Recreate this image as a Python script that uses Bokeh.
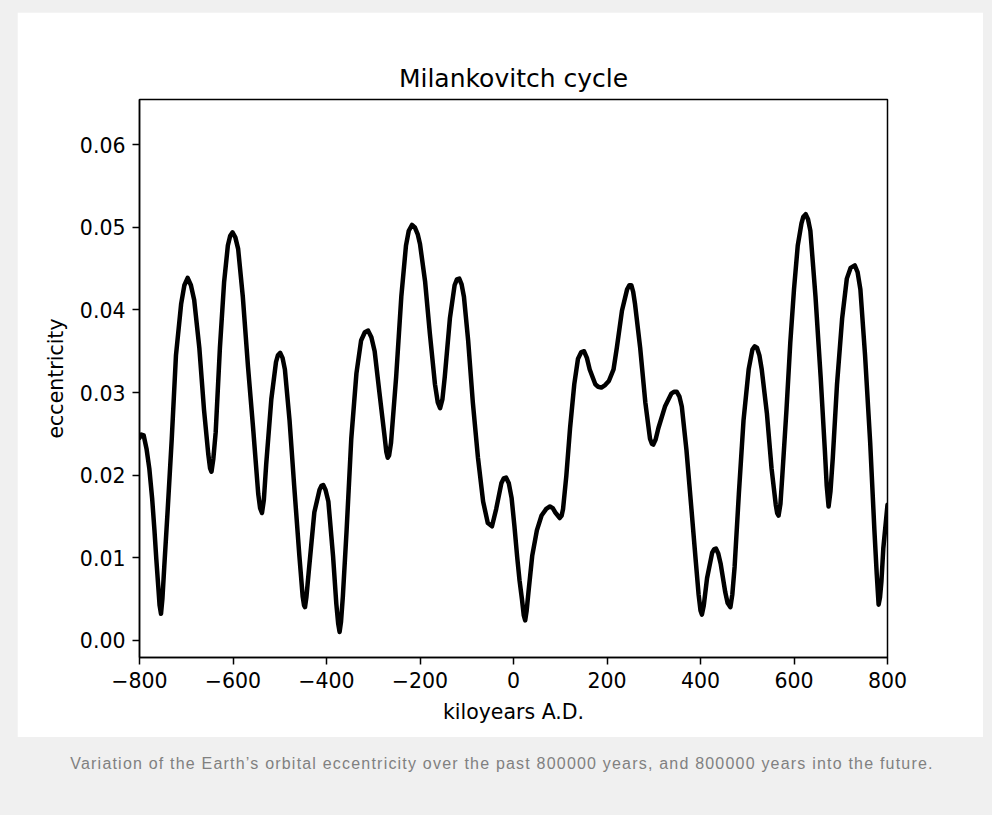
from bokeh.plotting import figure
from bokeh.models import FixedTicker, Div, Range1d, PrintfTickFormatter
from bokeh.layouts import column
from bokeh.embed import file_html
from bokeh.resources import INLINE

# kiloyears A.D.
kyr = [-800, -796, -791, -785, -779, -773, -768, -764, -760, -757, -754, -751, -747, -740,
       -731, -722, -711, -704, -697, -690, -683, -672, -662, -653, -649, -646, -642, -637,
       -628, -619, -611, -606, -601, -595, -589, -579, -568, -557, -546, -542, -538, -534,
       -529, -518, -508, -504, -499, -494, -489, -479, -469, -458, -451, -448, -446, -443,
       -437, -426, -415, -411, -407, -402, -396, -386, -379, -375, -372, -369, -365, -357,
       -347, -336, -326, -318, -311, -304, -297, -287, -276, -272, -269, -266, -262, -251,
       -240, -230, -224, -217, -211, -205, -200, -189, -179, -168, -162, -157, -152, -147,
       -136, -126, -121, -116, -111, -106, -97, -87, -76, -65, -55, -46, -37, -26,
       -21, -16, -10, -4, 2, 8, 13, 18, 22, 25, 28, 32, 40, 50,
       60, 70, 78, 84, 89, 99, 103, 106, 113, 121, 130, 138, 145, 151,
       157, 163, 175, 181, 188, 196, 204, 214, 221, 232, 243, 248, 252, 256,
       260, 271, 282, 292, 296, 299, 304, 310, 324, 338, 344, 349, 355, 360,
       370, 380, 390, 396, 400, 403, 407, 414, 425, 429, 433, 438, 443, 453,
       458, 464, 468, 473, 482, 492, 503, 511, 516, 521, 526, 531, 542, 552,
       561, 564, 567, 571, 575, 584, 592, 600, 608, 616, 620, 625, 630, 635,
       646, 657, 666, 670, 674, 678, 683, 692, 703, 713, 721, 730, 736, 742,
       752, 763, 772, 777, 781, 784, 787, 791, 800]

# orbital eccentricity
ecc = [0.0245, 0.0249, 0.0248, 0.0232, 0.0208, 0.0172, 0.0133, 0.0098, 0.0066, 0.0042, 0.0032, 0.0050, 0.0089, 0.0155,
       0.0244, 0.0345, 0.0407, 0.0430, 0.0439, 0.0430, 0.0412, 0.0354, 0.0279, 0.0226, 0.0208, 0.0204, 0.0220, 0.0252,
       0.0354, 0.0434, 0.0478, 0.0490, 0.0494, 0.0488, 0.0474, 0.0416, 0.0332, 0.0257, 0.0177, 0.0160, 0.0154, 0.0170,
       0.0213, 0.0292, 0.0337, 0.0345, 0.0348, 0.0342, 0.0328, 0.0266, 0.0186, 0.0102, 0.0053, 0.0042, 0.0040, 0.0052,
       0.0089, 0.0155, 0.0182, 0.0187, 0.0188, 0.0182, 0.0168, 0.0102, 0.0044, 0.0020, 0.0010, 0.0022, 0.0053, 0.0133,
       0.0244, 0.0323, 0.0363, 0.0373, 0.0375, 0.0367, 0.0350, 0.0301, 0.0248, 0.0228, 0.0221, 0.0224, 0.0239, 0.0319,
       0.0416, 0.0478, 0.0496, 0.0503, 0.0500, 0.0492, 0.0480, 0.0434, 0.0372, 0.0310, 0.0288, 0.0281, 0.0292, 0.0319,
       0.0390, 0.0430, 0.0437, 0.0438, 0.0431, 0.0416, 0.0363, 0.0288, 0.0221, 0.0168, 0.0142, 0.0138, 0.0159, 0.0190,
       0.0196, 0.0197, 0.0190, 0.0172, 0.0138, 0.0100, 0.0072, 0.0050, 0.0030, 0.0024, 0.0035, 0.0058, 0.0102, 0.0133,
       0.0151, 0.0159, 0.0162, 0.0160, 0.0155, 0.0148, 0.0151, 0.0159, 0.0199, 0.0257, 0.0310, 0.0341, 0.0349, 0.0350,
       0.0342, 0.0328, 0.0310, 0.0307, 0.0306, 0.0309, 0.0314, 0.0328, 0.0354, 0.0399, 0.0425, 0.0430, 0.0430, 0.0422,
       0.0407, 0.0354, 0.0288, 0.0244, 0.0238, 0.0237, 0.0243, 0.0257, 0.0283, 0.0299, 0.0301, 0.0301, 0.0295, 0.0283,
       0.0230, 0.0163, 0.0095, 0.0055, 0.0036, 0.0031, 0.0042, 0.0075, 0.0106, 0.0110, 0.0111, 0.0105, 0.0093, 0.0058,
       0.0045, 0.0040, 0.0055, 0.0089, 0.0177, 0.0266, 0.0328, 0.0352, 0.0356, 0.0354, 0.0345, 0.0328, 0.0275, 0.0208,
       0.0164, 0.0154, 0.0151, 0.0165, 0.0199, 0.0280, 0.0360, 0.0425, 0.0478, 0.0505, 0.0513, 0.0516, 0.0510, 0.0496,
       0.0416, 0.0319, 0.0230, 0.0187, 0.0162, 0.0180, 0.0221, 0.0310, 0.0390, 0.0438, 0.0451, 0.0454, 0.0446, 0.0425,
       0.0345, 0.0239, 0.0133, 0.0080, 0.0043, 0.0052, 0.0071, 0.0111, 0.0164]

assert len(kyr) == len(ecc)

x_ticks = [-800, -600, -400, -200, 0, 200, 400, 600, 800]
x_tick_labels = ["\u2212800", "\u2212600", "\u2212400", "\u2212200", "0", "200", "400", "600", "800"]
y_ticks = [0.0, 0.01, 0.02, 0.03, 0.04, 0.05, 0.06]

title_text = "Milankovitch cycle"
x_label = "kiloyears A.D."
y_label = "eccentricity"
caption_text = ("Variation of the Earth\u2019s orbital eccentricity over the past 800000 years, "
                "and 800000 years into the future.")

FONT = "DejaVu Sans"

p = figure(width=966, height=725, output_backend="svg", toolbar_location=None,
           x_range=Range1d(-800, 800), y_range=Range1d(-0.0021, 0.0655),
           min_border_left=122, min_border_right=96, min_border_top=87, min_border_bottom=80,
           title=title_text, background_fill_color="white", border_fill_color="white",
           x_axis_label=x_label, y_axis_label=y_label)
p.margin = (12, 9, 0, 17)

p.title.align = "center"
p.title.text_font = FONT
p.title.text_font_size = "25px"
p.title.text_font_style = "normal"
p.title.text_color = "black"
p.title.standoff = 14

p.grid.visible = False
p.outline_line_color = "black"
p.outline_line_width = 1.5
p.outline_line_alpha = 1.0

for ax in (p.xaxis[0], p.yaxis[0]):
    ax.axis_line_color = "black"
    ax.axis_line_width = 1.5
    ax.major_tick_line_color = "black"
    ax.major_tick_line_width = 1.5
    ax.major_tick_out = 7
    ax.major_tick_in = 0
    ax.minor_tick_line_color = None
    ax.major_label_text_font = FONT
    ax.major_label_text_font_size = "20.5px"
    ax.major_label_text_color = "black"
    ax.major_label_standoff = 7
    ax.axis_label_text_font = FONT
    ax.axis_label_text_font_size = "20.5px"
    ax.axis_label_text_font_style = "normal"
    ax.axis_label_text_color = "black"

p.xaxis.ticker = FixedTicker(ticks=x_ticks)
p.xaxis.major_label_overrides = {t: l for t, l in zip(x_ticks, x_tick_labels)}
p.xaxis.axis_label_standoff = 9
p.yaxis.ticker = FixedTicker(ticks=y_ticks)
p.yaxis.formatter = PrintfTickFormatter(format="%.2f")
p.yaxis.axis_label_standoff = 9

p.line(kyr, ecc, line_color="black", line_width=4.5, line_join="round", line_cap="round")

cap = Div(text=('<div style="box-sizing:border-box;width:992px;padding-left:12px;text-align:center;'
                'font-family:\'Liberation Sans\',Arial,sans-serif;'
                'font-size:16px;letter-spacing:1.2px;color:#808080;padding-top:17px;line-height:20px;">'
                + caption_text + '</div>'),
          width=992, height=78, margin=(0, 0, 0, 0))

layout = column(p, cap, width=992, height=815, spacing=0,
                styles={"background-color": "#f0f0f0"})

open("out.html", "w").write(file_html(layout, INLINE))
